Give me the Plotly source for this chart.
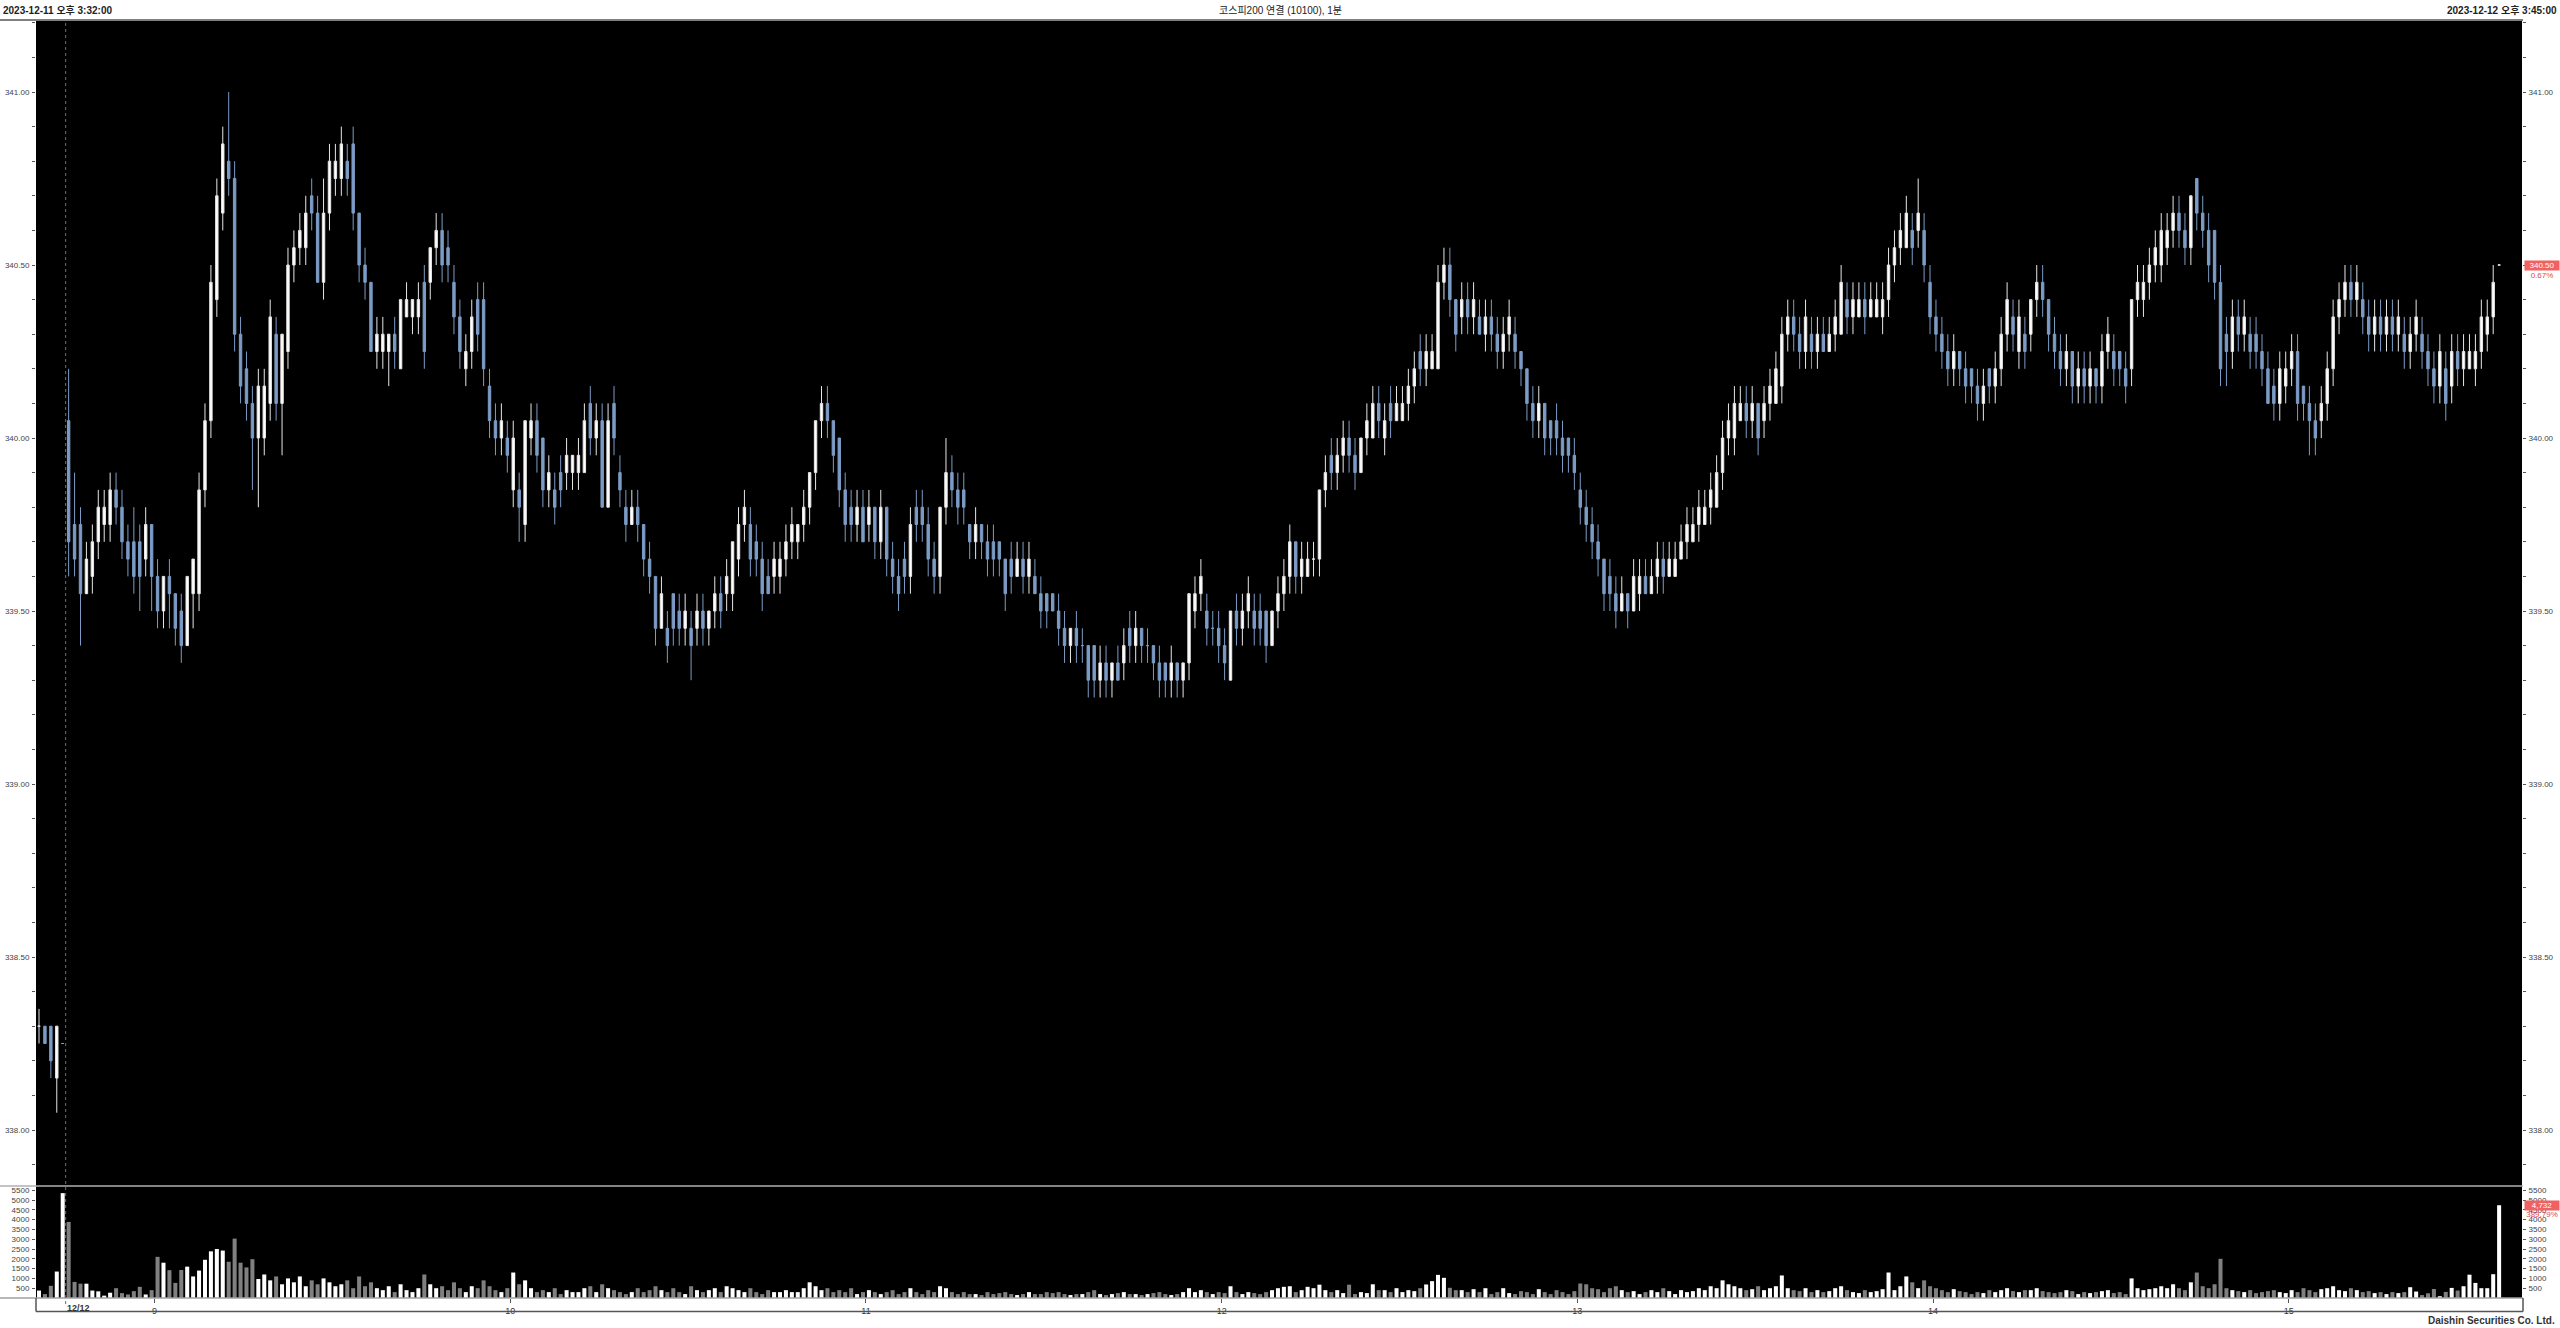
import plotly.graph_objects as go

# ---------------- data ----------------
# previous session (12/11) bars, then 12/12 from 08:46 to 15:35 and the 15:45 closing bar
prev_day_times = ["15:32", "15:33", "15:34", "15:35", "15:45"]

opens = [
    338.30, 338.30, 338.30, 338.15, 338.25,
    340.05, 339.75, 339.75, 339.55, 339.60, 339.70, 339.75, 339.75, 339.85, 339.80,
    339.70, 339.70, 339.70, 339.65, 339.75, 339.60, 339.50, 339.60, 339.55, 339.50,
    339.40, 339.55, 339.55, 339.85, 340.05, 340.40, 340.65, 340.80, 340.75, 340.30,
    340.20, 340.10, 340.00, 340.00, 340.10, 340.30, 340.10, 340.25, 340.50, 340.55,
    340.55, 340.70, 340.65, 340.45, 340.65, 340.75, 340.75, 340.80, 340.85, 340.65,
    340.50, 340.45, 340.25, 340.25, 340.25, 340.30, 340.20, 340.35, 340.35, 340.35,
    340.45, 340.45, 340.55, 340.60, 340.55, 340.45, 340.35, 340.20, 340.25, 340.40,
    340.40, 340.15, 340.05, 340.00, 340.00, 339.85, 339.85, 339.75, 340.00, 340.05,
    340.00, 339.85, 339.85, 339.90, 339.90, 339.90, 339.90, 339.90, 340.10, 340.00,
    340.05, 339.80, 340.10, 339.90, 339.80, 339.75, 339.80, 339.75, 339.65, 339.60,
    339.45, 339.45, 339.55, 339.50, 339.45, 339.45, 339.45, 339.50, 339.45, 339.50,
    339.55, 339.55, 339.55, 339.65, 339.75, 339.75, 339.70, 339.65, 339.60, 339.60,
    339.60, 339.65, 339.70, 339.70, 339.75, 339.80, 339.90, 340.05, 340.10, 340.05,
    340.00, 339.85, 339.80, 339.75, 339.80, 339.75, 339.80, 339.70, 339.80, 339.65,
    339.60, 339.65, 339.60, 339.80, 339.80, 339.75, 339.65, 339.60, 339.80, 339.90,
    339.85, 339.85, 339.75, 339.70, 339.75, 339.70, 339.70, 339.70, 339.65, 339.65,
    339.60, 339.65, 339.60, 339.60, 339.55, 339.55, 339.55, 339.50, 339.45, 339.40,
    339.45, 339.40, 339.40, 339.40, 339.30, 339.35, 339.30, 339.35, 339.35, 339.45,
    339.40, 339.45, 339.40, 339.40, 339.35, 339.35, 339.30, 339.35, 339.30, 339.35,
    339.50, 339.55, 339.50, 339.45, 339.45, 339.40, 339.30, 339.50, 339.45, 339.50,
    339.50, 339.50, 339.50, 339.40, 339.50, 339.55, 339.60, 339.70, 339.60, 339.60,
    339.65, 339.65, 339.85, 339.95, 339.90, 339.95, 340.00, 339.95, 339.90, 340.00,
    340.00, 340.10, 340.00, 340.10, 340.05, 340.05, 340.10, 340.15, 340.25, 340.20,
    340.20, 340.20, 340.45, 340.50, 340.40, 340.35, 340.40, 340.35, 340.35, 340.30,
    340.35, 340.30, 340.25, 340.30, 340.30, 340.25, 340.20, 340.10, 340.05, 340.10,
    340.05, 340.05, 340.00, 340.00, 339.95, 339.85, 339.80, 339.75, 339.70, 339.65,
    339.60, 339.55, 339.50, 339.55, 339.50, 339.55, 339.60, 339.55, 339.60, 339.65,
    339.60, 339.60, 339.65, 339.70, 339.70, 339.75, 339.75, 339.80, 339.80, 339.90,
    340.00, 340.00, 340.05, 340.10, 340.05, 340.10, 340.05, 340.10, 340.10, 340.15,
    340.30, 340.35, 340.30, 340.25, 340.30, 340.25, 340.30, 340.25, 340.30, 340.30,
    340.40, 340.35, 340.35, 340.40, 340.35, 340.35, 340.35, 340.40, 340.50, 340.55,
    340.55, 340.60, 340.60, 340.60, 340.45, 340.35, 340.30, 340.25, 340.20, 340.25,
    340.20, 340.20, 340.15, 340.10, 340.20, 340.15, 340.20, 340.30, 340.35, 340.25,
    340.30, 340.30, 340.40, 340.45, 340.40, 340.30, 340.25, 340.20, 340.25, 340.15,
    340.20, 340.15, 340.20, 340.15, 340.25, 340.25, 340.25, 340.20, 340.20, 340.40,
    340.40, 340.45, 340.50, 340.50, 340.55, 340.60, 340.65, 340.60, 340.55, 340.75,
    340.65, 340.60, 340.60, 340.45, 340.30, 340.25, 340.35, 340.30, 340.30, 340.30,
    340.25, 340.20, 340.15, 340.10, 340.15, 340.20, 340.25, 340.15, 340.10, 340.05,
    340.05, 340.10, 340.20, 340.35, 340.40, 340.45, 340.40, 340.40, 340.35, 340.30,
    340.35, 340.30, 340.35, 340.30, 340.30, 340.25, 340.30, 340.30, 340.25, 340.20,
    340.15, 340.20, 340.15, 340.25, 340.20, 340.20, 340.20, 340.25, 340.30, 340.35,
    340.50,
]
highs = [
    338.35, 338.30, 338.30, 338.30, 338.25,
    340.20, 339.90, 339.80, 339.70, 339.75, 339.85, 339.85, 339.90, 339.90, 339.85,
    339.75, 339.80, 339.75, 339.80, 339.75, 339.65, 339.60, 339.65, 339.55, 339.55,
    339.60, 339.65, 339.90, 340.10, 340.50, 340.75, 340.90, 341.00, 340.80, 340.35,
    340.25, 340.15, 340.20, 340.20, 340.40, 340.35, 340.30, 340.55, 340.60, 340.65,
    340.70, 340.75, 340.70, 340.75, 340.85, 340.85, 340.90, 340.85, 340.90, 340.65,
    340.55, 340.45, 340.35, 340.35, 340.30, 340.35, 340.40, 340.45, 340.40, 340.45,
    340.50, 340.55, 340.65, 340.65, 340.60, 340.50, 340.40, 340.30, 340.40, 340.45,
    340.45, 340.20, 340.10, 340.10, 340.05, 340.05, 339.90, 340.05, 340.10, 340.10,
    340.00, 339.95, 339.90, 339.95, 340.00, 339.95, 340.00, 340.10, 340.15, 340.10,
    340.10, 340.10, 340.15, 339.95, 339.85, 339.85, 339.85, 339.75, 339.70, 339.60,
    339.60, 339.50, 339.55, 339.55, 339.55, 339.50, 339.55, 339.55, 339.50, 339.60,
    339.60, 339.65, 339.70, 339.80, 339.85, 339.80, 339.75, 339.70, 339.65, 339.70,
    339.70, 339.75, 339.80, 339.75, 339.85, 339.90, 340.05, 340.15, 340.15, 340.05,
    340.00, 339.90, 339.85, 339.85, 339.85, 339.85, 339.80, 339.85, 339.80, 339.70,
    339.65, 339.70, 339.80, 339.85, 339.85, 339.80, 339.70, 339.80, 340.00, 339.95,
    339.90, 339.90, 339.75, 339.80, 339.75, 339.75, 339.75, 339.70, 339.65, 339.70,
    339.70, 339.70, 339.70, 339.65, 339.60, 339.55, 339.55, 339.55, 339.50, 339.45,
    339.50, 339.45, 339.40, 339.40, 339.40, 339.40, 339.35, 339.40, 339.45, 339.50,
    339.50, 339.45, 339.45, 339.40, 339.40, 339.35, 339.40, 339.35, 339.35, 339.55,
    339.60, 339.65, 339.55, 339.50, 339.50, 339.45, 339.50, 339.55, 339.55, 339.60,
    339.55, 339.55, 339.50, 339.50, 339.60, 339.65, 339.75, 339.70, 339.70, 339.70,
    339.70, 339.85, 339.95, 340.00, 340.00, 340.05, 340.05, 340.00, 340.00, 340.10,
    340.15, 340.15, 340.10, 340.15, 340.15, 340.15, 340.20, 340.25, 340.30, 340.30,
    340.30, 340.50, 340.55, 340.55, 340.40, 340.45, 340.45, 340.45, 340.40, 340.40,
    340.40, 340.35, 340.35, 340.40, 340.35, 340.25, 340.20, 340.15, 340.15, 340.10,
    340.05, 340.10, 340.05, 340.00, 340.00, 339.90, 339.85, 339.80, 339.75, 339.65,
    339.65, 339.60, 339.60, 339.55, 339.65, 339.65, 339.65, 339.65, 339.70, 339.70,
    339.70, 339.70, 339.75, 339.80, 339.80, 339.85, 339.85, 339.90, 339.95, 340.05,
    340.10, 340.15, 340.15, 340.15, 340.15, 340.10, 340.15, 340.20, 340.25, 340.35,
    340.40, 340.40, 340.35, 340.40, 340.35, 340.35, 340.35, 340.35, 340.40, 340.50,
    340.45, 340.45, 340.45, 340.45, 340.45, 340.45, 340.45, 340.55, 340.60, 340.65,
    340.70, 340.65, 340.75, 340.65, 340.50, 340.40, 340.35, 340.30, 340.30, 340.25,
    340.25, 340.20, 340.20, 340.20, 340.20, 340.25, 340.35, 340.45, 340.40, 340.40,
    340.35, 340.40, 340.50, 340.50, 340.40, 340.35, 340.30, 340.30, 340.25, 340.25,
    340.25, 340.25, 340.20, 340.30, 340.35, 340.30, 340.25, 340.25, 340.40, 340.50,
    340.50, 340.55, 340.60, 340.65, 340.65, 340.70, 340.70, 340.65, 340.70, 340.75,
    340.70, 340.65, 340.60, 340.50, 340.35, 340.40, 340.40, 340.40, 340.35, 340.35,
    340.30, 340.25, 340.20, 340.25, 340.25, 340.30, 340.30, 340.15, 340.15, 340.10,
    340.15, 340.25, 340.40, 340.45, 340.50, 340.50, 340.50, 340.45, 340.40, 340.40,
    340.40, 340.40, 340.40, 340.40, 340.35, 340.35, 340.40, 340.35, 340.30, 340.25,
    340.30, 340.25, 340.30, 340.30, 340.30, 340.30, 340.30, 340.40, 340.40, 340.50,
    340.50,
]
lows = [
    338.25, 338.25, 338.15, 338.05, 338.25,
    339.60, 339.60, 339.40, 339.55, 339.55, 339.65, 339.70, 339.70, 339.75, 339.65,
    339.60, 339.55, 339.50, 339.60, 339.50, 339.45, 339.45, 339.45, 339.40, 339.35,
    339.40, 339.45, 339.50, 339.80, 340.00, 340.35, 340.60, 340.70, 340.25, 340.10,
    340.05, 339.85, 339.80, 339.95, 340.05, 340.05, 339.95, 340.20, 340.45, 340.50,
    340.50, 340.60, 340.45, 340.40, 340.60, 340.70, 340.70, 340.70, 340.60, 340.45,
    340.40, 340.25, 340.20, 340.20, 340.15, 340.20, 340.20, 340.35, 340.30, 340.30,
    340.20, 340.40, 340.50, 340.45, 340.45, 340.30, 340.20, 340.15, 340.20, 340.25,
    340.15, 340.00, 339.95, 339.95, 339.90, 339.80, 339.70, 339.70, 339.95, 339.90,
    339.80, 339.80, 339.75, 339.80, 339.85, 339.85, 339.85, 339.90, 339.95, 339.95,
    339.80, 339.80, 339.95, 339.80, 339.70, 339.75, 339.70, 339.60, 339.55, 339.40,
    339.45, 339.35, 339.40, 339.40, 339.40, 339.30, 339.40, 339.40, 339.40, 339.45,
    339.45, 339.50, 339.50, 339.60, 339.70, 339.60, 339.60, 339.50, 339.55, 339.55,
    339.55, 339.60, 339.65, 339.65, 339.70, 339.75, 339.85, 340.00, 340.00, 339.90,
    339.80, 339.70, 339.70, 339.70, 339.70, 339.70, 339.65, 339.65, 339.60, 339.55,
    339.50, 339.55, 339.55, 339.70, 339.70, 339.60, 339.55, 339.55, 339.75, 339.80,
    339.75, 339.75, 339.65, 339.65, 339.65, 339.60, 339.60, 339.60, 339.50, 339.55,
    339.60, 339.55, 339.55, 339.55, 339.45, 339.45, 339.50, 339.40, 339.35, 339.35,
    339.35, 339.35, 339.25, 339.25, 339.25, 339.25, 339.25, 339.30, 339.30, 339.35,
    339.35, 339.35, 339.35, 339.30, 339.25, 339.25, 339.25, 339.25, 339.25, 339.30,
    339.45, 339.50, 339.40, 339.40, 339.35, 339.30, 339.30, 339.40, 339.40, 339.45,
    339.40, 339.40, 339.35, 339.40, 339.45, 339.50, 339.55, 339.55, 339.55, 339.60,
    339.60, 339.60, 339.80, 339.85, 339.85, 339.90, 339.90, 339.85, 339.90, 339.95,
    340.00, 340.00, 339.95, 340.00, 340.05, 340.05, 340.05, 340.10, 340.15, 340.15,
    340.20, 340.20, 340.40, 340.35, 340.25, 340.30, 340.30, 340.30, 340.30, 340.25,
    340.25, 340.20, 340.20, 340.25, 340.20, 340.15, 340.05, 340.00, 340.00, 339.95,
    339.95, 339.95, 339.90, 339.90, 339.85, 339.75, 339.70, 339.65, 339.60, 339.50,
    339.50, 339.45, 339.50, 339.45, 339.50, 339.50, 339.55, 339.55, 339.55, 339.55,
    339.60, 339.60, 339.65, 339.65, 339.70, 339.70, 339.75, 339.75, 339.80, 339.85,
    339.95, 339.95, 340.05, 340.00, 340.00, 339.95, 340.00, 340.05, 340.10, 340.10,
    340.25, 340.25, 340.20, 340.20, 340.20, 340.20, 340.25, 340.25, 340.25, 340.30,
    340.30, 340.30, 340.35, 340.30, 340.35, 340.35, 340.30, 340.35, 340.45, 340.50,
    340.55, 340.50, 340.55, 340.45, 340.30, 340.25, 340.20, 340.15, 340.15, 340.15,
    340.10, 340.10, 340.05, 340.05, 340.10, 340.10, 340.15, 340.25, 340.25, 340.20,
    340.20, 340.25, 340.35, 340.35, 340.25, 340.20, 340.15, 340.15, 340.10, 340.10,
    340.10, 340.10, 340.10, 340.10, 340.20, 340.15, 340.15, 340.10, 340.15, 340.35,
    340.35, 340.40, 340.45, 340.45, 340.50, 340.55, 340.55, 340.50, 340.50, 340.60,
    340.55, 340.45, 340.40, 340.15, 340.15, 340.20, 340.25, 340.25, 340.20, 340.20,
    340.15, 340.10, 340.05, 340.05, 340.10, 340.15, 340.05, 340.05, 339.95, 339.95,
    340.00, 340.05, 340.15, 340.30, 340.35, 340.35, 340.35, 340.30, 340.25, 340.25,
    340.25, 340.25, 340.25, 340.25, 340.20, 340.20, 340.25, 340.20, 340.15, 340.10,
    340.10, 340.05, 340.10, 340.15, 340.15, 340.20, 340.15, 340.20, 340.25, 340.30,
    340.50,
]
closes = [
    338.30, 338.25, 338.20, 338.30, 338.25,
    339.70, 339.65, 339.55, 339.65, 339.70, 339.80, 339.80, 339.85, 339.80, 339.70,
    339.65, 339.60, 339.60, 339.75, 339.60, 339.50, 339.60, 339.55, 339.45, 339.40,
    339.60, 339.65, 339.85, 340.05, 340.45, 340.70, 340.85, 340.75, 340.30, 340.15,
    340.10, 340.00, 340.15, 340.15, 340.35, 340.10, 340.30, 340.50, 340.55, 340.60,
    340.65, 340.65, 340.45, 340.65, 340.80, 340.80, 340.85, 340.75, 340.65, 340.50,
    340.45, 340.25, 340.30, 340.30, 340.30, 340.25, 340.40, 340.40, 340.40, 340.40,
    340.25, 340.55, 340.60, 340.50, 340.50, 340.35, 340.25, 340.25, 340.35, 340.30,
    340.20, 340.05, 340.00, 340.05, 339.95, 340.00, 339.80, 340.05, 340.05, 339.95,
    339.85, 339.90, 339.80, 339.85, 339.95, 339.95, 339.95, 340.05, 340.00, 340.05,
    339.80, 340.05, 340.00, 339.85, 339.75, 339.80, 339.75, 339.65, 339.60, 339.45,
    339.55, 339.40, 339.45, 339.45, 339.50, 339.40, 339.50, 339.45, 339.50, 339.55,
    339.50, 339.60, 339.70, 339.75, 339.80, 339.65, 339.65, 339.55, 339.55, 339.65,
    339.65, 339.70, 339.75, 339.75, 339.80, 339.90, 340.05, 340.10, 340.05, 339.95,
    339.85, 339.75, 339.75, 339.80, 339.70, 339.80, 339.70, 339.80, 339.65, 339.60,
    339.55, 339.60, 339.75, 339.75, 339.75, 339.65, 339.60, 339.80, 339.90, 339.85,
    339.80, 339.80, 339.70, 339.75, 339.70, 339.65, 339.65, 339.65, 339.55, 339.60,
    339.65, 339.60, 339.65, 339.55, 339.50, 339.50, 339.50, 339.45, 339.40, 339.45,
    339.40, 339.40, 339.30, 339.30, 339.35, 339.30, 339.35, 339.30, 339.40, 339.40,
    339.45, 339.40, 339.40, 339.35, 339.30, 339.30, 339.35, 339.30, 339.35, 339.55,
    339.55, 339.60, 339.45, 339.45, 339.40, 339.35, 339.50, 339.45, 339.50, 339.55,
    339.45, 339.45, 339.40, 339.50, 339.55, 339.60, 339.70, 339.60, 339.65, 339.65,
    339.65, 339.85, 339.90, 339.90, 339.95, 340.00, 339.95, 339.90, 340.00, 340.05,
    340.10, 340.05, 340.05, 340.05, 340.10, 340.10, 340.15, 340.20, 340.20, 340.25,
    340.25, 340.45, 340.50, 340.40, 340.30, 340.40, 340.35, 340.40, 340.30, 340.35,
    340.30, 340.25, 340.30, 340.35, 340.25, 340.20, 340.10, 340.05, 340.10, 340.00,
    340.00, 340.00, 339.95, 339.95, 339.90, 339.80, 339.75, 339.70, 339.65, 339.55,
    339.55, 339.50, 339.55, 339.50, 339.60, 339.60, 339.55, 339.60, 339.65, 339.60,
    339.65, 339.65, 339.70, 339.75, 339.75, 339.80, 339.80, 339.85, 339.90, 340.00,
    340.05, 340.10, 340.10, 340.05, 340.10, 340.00, 340.10, 340.15, 340.20, 340.30,
    340.35, 340.30, 340.25, 340.35, 340.25, 340.30, 340.25, 340.30, 340.35, 340.45,
    340.35, 340.40, 340.40, 340.35, 340.40, 340.40, 340.40, 340.50, 340.55, 340.60,
    340.65, 340.55, 340.65, 340.50, 340.35, 340.30, 340.25, 340.20, 340.25, 340.20,
    340.15, 340.15, 340.10, 340.15, 340.15, 340.20, 340.30, 340.40, 340.30, 340.35,
    340.25, 340.40, 340.45, 340.40, 340.30, 340.25, 340.20, 340.25, 340.15, 340.20,
    340.15, 340.20, 340.15, 340.25, 340.30, 340.20, 340.20, 340.15, 340.40, 340.45,
    340.45, 340.50, 340.55, 340.60, 340.60, 340.65, 340.60, 340.55, 340.70, 340.65,
    340.60, 340.50, 340.45, 340.20, 340.25, 340.35, 340.30, 340.35, 340.25, 340.25,
    340.20, 340.10, 340.10, 340.20, 340.20, 340.25, 340.10, 340.10, 340.05, 340.00,
    340.10, 340.20, 340.35, 340.40, 340.45, 340.40, 340.45, 340.35, 340.30, 340.35,
    340.30, 340.35, 340.30, 340.35, 340.25, 340.30, 340.35, 340.25, 340.20, 340.15,
    340.25, 340.10, 340.25, 340.20, 340.25, 340.25, 340.25, 340.35, 340.35, 340.45,
    340.50,
]
volumes = [
    380, 200, 620, 1350, 5350,
    3880, 820, 730, 730, 380, 340, 120, 270, 500, 250,
    180, 350, 570, 180, 400, 2100, 1800, 1420, 770, 1430,
    1600, 1100, 1400, 1950, 2380, 2500, 2420, 1850, 3030, 1800,
    1560, 1980, 970, 1200, 900, 1100, 700, 1000, 800, 1100,
    600, 900, 700, 1000, 800, 600, 700, 900, 500, 1100,
    600, 800, 500, 400, 600, 300, 700, 400, 300, 500,
    1200, 700, 500, 600, 400, 800, 500, 300, 600, 500,
    900, 600, 400, 300, 500, 1300, 700, 900, 500, 300,
    400, 300, 500, 200, 400, 300, 300, 500, 600, 300,
    700, 500, 400, 300, 200, 300, 500, 300, 400, 600,
    400, 300, 500, 300, 200, 600, 400, 300, 400, 500,
    300, 600, 500, 400, 300, 500, 300, 200, 400, 300,
    300, 400, 300, 300, 500, 800, 600, 400, 500, 300,
    400, 300, 500, 200, 300, 400, 300, 200, 300, 400,
    200, 300, 500, 300, 200, 400, 300, 600, 500, 300,
    200, 300, 200, 200, 150, 300, 200, 250, 300, 200,
    150, 200, 300, 200, 200, 300, 250, 300, 200, 150,
    200, 200, 300, 400, 200, 150, 200, 250, 300, 200,
    200, 150, 200, 250, 300, 200, 150, 200, 300, 500,
    300, 400, 300, 200, 300, 250, 600, 300, 200, 300,
    250, 200, 300, 400, 500, 570, 600, 300, 400, 570,
    500, 680, 400, 300, 400, 250, 680, 200, 300, 250,
    700, 400, 400, 300, 500, 300, 400, 350, 500, 690,
    860, 1180, 1030, 520, 400, 400, 300, 450, 300, 500,
    200, 300, 500, 250, 200, 350, 300, 200, 450, 300,
    200, 400, 300, 200, 350, 740, 700, 500, 450, 300,
    500, 600, 400, 300, 350, 200, 300, 400, 300, 500,
    350, 200, 400, 300, 350, 500, 400, 600, 500, 900,
    700, 600, 500, 400, 450, 600, 400, 500, 600, 1150,
    500, 400, 350, 500, 300, 400, 300, 350, 500, 600,
    400, 300, 250, 400, 300, 350, 450, 1300, 400, 600,
    1100, 800, 500, 900, 600, 500, 400, 300, 450, 350,
    300, 200, 300, 250, 400, 300, 400, 500, 350, 300,
    400, 400, 500, 350, 300, 250, 300, 400, 350, 200,
    300, 250, 300, 350, 400, 250, 300, 200, 1000, 500,
    400, 450, 500, 600, 500, 700, 500, 400, 800, 1300,
    600, 500, 700, 2000, 500, 400, 350, 300, 400, 250,
    300, 350, 400, 300, 250, 400, 300, 500, 400, 300,
    450, 500, 600, 400, 350, 500, 400, 300, 350, 250,
    300, 200, 300, 250, 300, 550, 330, 150, 240, 460,
    90, 310, 515, 380, 600, 1190, 770, 500, 500, 1214,
    4732,
]

date_label = "12/12"
hour_labels = ["9", "10", "11", "12", "13", "14", "15"]
price_tick0, price_dtick = 338.0, 0.5
vol_ticks = [500, 1000, 1500, 2000, 2500, 3000, 3500, 4000, 4500, 5000, 5500]

title_left = "2023-12-11 오후 3:32:00"
title_mid = "코스피200 연결 (10100), 1분"
title_right = "2023-12-12 오후 3:45:00"
footer = "Daishin Securities Co. Ltd."

# ---------------- derived categories ----------------
times = [f"12/11 {t}" for t in prev_day_times]
for m in range(8 * 60 + 46, 15 * 60 + 36):
    times.append(f"12/12 {m // 60:02d}:{m % 60:02d}")
times.append("12/12 15:45")
n = len(times)
assert len(opens) == len(highs) == len(lows) == len(closes) == len(volumes) == n, (
    len(opens), len(highs), len(lows), len(closes), len(volumes), n)
xs = list(range(n))

day_start = times.index("12/12 08:46") - 0.5
tickvals = [times.index(f"12/12 {int(h):02d}:00") + 0.5 for h in hour_labels]
ticktext = hour_labels

vol_colors = ["#ffffff" if c >= o else "#808080" for o, c in zip(opens, closes)]

# ---------------- geometry ----------------
W, H = 2560, 1328
ML, MR, MT, MB = 36, 38, 20, 30
plot_w = W - ML - MR
plot_h = H - MT - MB
vol_frac = 112 / plot_h
px_per_bar = 5.928
x_lo = -3 / px_per_bar
x_hi = x_lo + plot_w / px_per_bar
px_per_price = 346.0  # pixels per 1.0 of price
y_top = 341.0 + (92 - 20) / px_per_price
y_bot = 341.0 - (1186 - 92) / px_per_price
vol_top = 112 / 0.0196

UP = "#ffffff"
DOWN = "#7c9cc6"
AXFONT = dict(family="Liberation Sans Narrow, Arial Narrow, Liberation Sans, Arial", size=8, color="#444444")

fig = go.Figure()
fig.add_trace(go.Candlestick(
    x=xs, open=opens, high=highs, low=lows, close=closes,
    increasing=dict(line=dict(color="#e6e6e6", width=1), fillcolor=UP),
    decreasing=dict(line=dict(color=DOWN, width=1), fillcolor=DOWN),
    whiskerwidth=0, xaxis="x", yaxis="y", showlegend=False, hoverinfo="skip",
))
fig.add_trace(go.Bar(
    x=xs, y=volumes, marker=dict(color=vol_colors, line=dict(width=0)),
    width=0.68, xaxis="x", yaxis="y2", showlegend=False, hoverinfo="skip",
))
# transparent companions so the right-hand mirror axes are drawn
fig.add_trace(go.Scatter(x=xs, y=closes, xaxis="x", yaxis="y3", mode="markers",
                         marker=dict(opacity=0, size=1), showlegend=False, hoverinfo="skip"))
fig.add_trace(go.Scatter(x=xs, y=volumes, xaxis="x", yaxis="y4", mode="markers",
                         marker=dict(opacity=0, size=1), showlegend=False, hoverinfo="skip"))

price_axis = dict(
    range=[y_bot, y_top], tickmode="linear", tick0=price_tick0, dtick=price_dtick,
    tickformat=".2f", ticks="outside", ticklen=3, tickcolor="#555555", tickfont=AXFONT,
    showgrid=False, zeroline=False, showline=False, ticklabelstandoff=1, automargin=False,
    minor=dict(tickmode="linear", tick0=price_tick0, dtick=0.1, ticks="outside", ticklen=3, tickcolor="#555555", showgrid=False),
)
vol_axis = dict(
    range=[0, vol_top], tickmode="array", tickvals=vol_ticks,
    ticktext=[str(v) for v in vol_ticks], ticks="outside", ticklen=3, tickcolor="#555555",
    tickfont=AXFONT, showgrid=False, zeroline=False, showline=False, ticklabelstandoff=1, automargin=False,
)

fig.update_layout(
    width=W, height=H, margin=dict(l=ML, r=MR, t=MT, b=MB, pad=0, autoexpand=False),
    paper_bgcolor="#ffffff", plot_bgcolor="#000000", showlegend=False, hovermode=False,
    boxgap=0.42, bargap=0.3,
    xaxis=dict(
        range=[x_lo, x_hi], domain=[0, 1], anchor="y2", tickmode="array", tickvals=tickvals, ticktext=ticktext,
        ticks="outside", ticklen=4, tickcolor="#555555", tickfont=dict(family="Liberation Sans, Arial", size=9, color="#333333"),
        showgrid=False, zeroline=False, showline=False, rangeslider=dict(visible=False), ticklabelstandoff=0,
        automargin=False,
    ),
    yaxis=dict(**price_axis, domain=[vol_frac, 1], side="left", anchor="x"),
    yaxis2=dict(**vol_axis, domain=[0, vol_frac], side="left", anchor="x"),
    yaxis3=dict(**price_axis, side="right", anchor="x", overlaying="y"),
    yaxis4=dict(**vol_axis, side="right", anchor="x", overlaying="y2"),
)

# ---------------- frame lines ----------------
left_paper = -ML / plot_w
right_edge = 1 + 1 / plot_w
axis_box_bottom = -13.5 / plot_h
shapes = [
    dict(type="line", xref="paper", yref="paper", x0=left_paper, x1=right_edge, y0=1, y1=1,
         line=dict(color="#808080", width=2)),
    dict(type="line", xref="paper", yref="paper", x0=left_paper, x1=right_edge, y0=vol_frac, y1=vol_frac,
         line=dict(color="#b0b0b0", width=1.5)),
    dict(type="line", xref="paper", yref="paper", x0=left_paper, x1=right_edge, y0=0, y1=0,
         line=dict(color="#a0a0a0", width=1.5)),
    dict(type="line", xref="paper", yref="paper", x0=0, x1=right_edge, y0=axis_box_bottom, y1=axis_box_bottom,
         line=dict(color="#555555", width=1.5)),
    dict(type="line", xref="paper", yref="paper", x0=0, x1=0, y0=axis_box_bottom, y1=0,
         line=dict(color="#555555", width=1.5)),
    dict(type="line", xref="paper", yref="paper", x0=right_edge, x1=right_edge, y0=axis_box_bottom, y1=0,
         line=dict(color="#555555", width=1.5)),
    dict(type="line", xref="x", yref="paper", x0=day_start, x1=day_start, y0=-6 / plot_h, y1=1,
         line=dict(color="#707070", width=1, dash="dot")),
]
fig.update_layout(shapes=shapes)

# ---------------- texts ----------------
HEAD = dict(family="Liberation Sans, Noto Sans CJK KR, Arial", size=10, color="#222222")
head_y = 1 + 10 / plot_h
last_close = closes[-1]
prev_close = closes[len(prev_day_times) - 1]
pct = (last_close / prev_close - 1) * 100
vol_ratio = volumes[-1] / volumes[-2] * 100
RED = "#f06262"
annotations = [
    dict(text=f"<b>{title_left}</b>", x=left_paper + 1 / plot_w, y=head_y, xref="paper", yref="paper",
         xanchor="left", yanchor="middle", showarrow=False, font=HEAD),
    dict(text=title_mid, x=(1280 - ML) / plot_w, y=head_y, xref="paper", yref="paper",
         xanchor="center", yanchor="middle", showarrow=False, font=HEAD),
    dict(text=f"<b>{title_right}</b>", x=(W - 1 - ML) / plot_w, y=head_y, xref="paper", yref="paper",
         xanchor="right", yanchor="middle", showarrow=False, font=HEAD),
    dict(text=f"<b>{date_label}</b>", x=day_start, xref="x", y=-9.5 / plot_h, yref="paper",
         xanchor="left", yanchor="middle", xshift=-1, showarrow=False,
         font=dict(family="Liberation Sans, Arial", size=9, color="#333333")),
    dict(text=f"<b>{footer}</b>", x=(W - 3 - ML) / plot_w, y=-22 / plot_h, xref="paper", yref="paper",
         xanchor="right", yanchor="middle", showarrow=False,
         font=dict(family="Liberation Sans, Arial", size=10, color="#333333")),
    dict(text=f"{last_close:.2f}", x=1, y=last_close, xref="paper", yref="y", xanchor="left", yanchor="middle",
         xshift=2, showarrow=False, bgcolor=RED, width=34, height=9, borderpad=0,
         font=dict(family="Liberation Sans, Arial", size=8, color="#ffffff")),
    dict(text=f"{pct:.2f}%", x=1, y=last_close, xref="paper", yref="y", xanchor="left", yanchor="middle",
         xshift=2, yshift=-10, showarrow=False, width=34, height=9, borderpad=0,
         font=dict(family="Liberation Sans, Arial", size=8, color="#e04848")),
    dict(text=f"{volumes[-1]:,}", x=1, y=volumes[-1], xref="paper", yref="y2", xanchor="left", yanchor="middle",
         xshift=2, showarrow=False, bgcolor=RED, width=34, height=9, borderpad=0,
         font=dict(family="Liberation Sans, Arial", size=8, color="#ffffff")),
    dict(text=f"{vol_ratio:.2f}%", x=1, y=volumes[-1], xref="paper", yref="y2", xanchor="left", yanchor="middle",
         xshift=2, yshift=-9, showarrow=False, width=34, height=9, borderpad=0,
         font=dict(family="Liberation Sans, Arial", size=8, color="#e04848")),
]
fig.update_layout(annotations=annotations)

fig.write_html(
    "out.html",
    config={"displayModeBar": False, "staticPlot": True},
    post_script="document.body.style.margin='0';document.body.style.overflow='hidden';",
)
